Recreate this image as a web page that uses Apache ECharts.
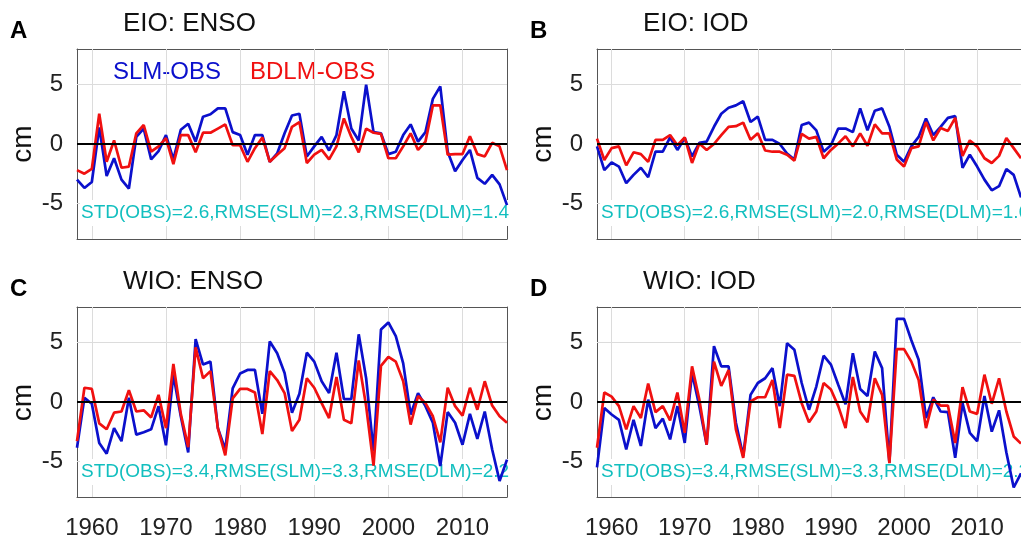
<!DOCTYPE html>
<html>
<head>
<meta charset="utf-8">
<script src="https://cdn.jsdelivr.net/npm/echarts@6/dist/echarts.min.js"></script>
<style>
  html, body { margin: 0; padding: 0; background: #fff; }
  #main { width: 1021px; height: 540px; }
</style>
</head>
<body>
<div id="main"></div>
<script>
// years 1958-2016
var years = [1958,1959,1960,1961,1962,1963,1964,1965,1966,1967,
             1968,1969,1970,1971,1972,1973,1974,1975,1976,1977,
             1978,1979,1980,1981,1982,1983,1984,1985,1986,1987,
             1988,1989,1990,1991,1992,1993,1994,1995,1996,1997,
             1998,1999,2000,2001,2002,2003,2004,2005,2006,2007,
             2008,2009,2010,2011,2012,2013,2014,2015,2016];

var xTicks = [1960, 1970, 1980, 1990, 2000, 2010];
var yTicks = [-5, 0, 5];

// A  EIO: ENSO
var eioEnsoSlm = [-3.0,-3.7,-3.2,1.4,-2.7,-1.2,-3.0,-3.75,0.6,1.3,
                  -1.3,-0.6,0.75,-1.3,1.2,1.7,0.2,2.3,2.5,3.0,
                  3.0,1.0,0.75,-0.9,0.75,0.75,-1.5,-0.8,0.9,2.4,
                  2.55,-1.05,-0.2,0.6,-0.55,0.75,4.45,1.3,0.3,5.0,
                  1.0,0.9,-0.85,-0.65,0.75,1.65,0.2,1.0,3.8,4.85,
                  -0.65,-2.3,-1.35,-0.5,-2.85,-3.35,-2.6,-3.4,-5.15];
var eioEnsoBdlm = [-2.2,-2.5,-2.1,2.55,-1.5,0.3,-2.0,-1.9,0.9,1.6,
                   -0.65,-0.2,0.5,-1.7,0.75,0.75,-0.7,0.95,0.95,1.3,
                   1.65,-0.1,-0.1,-1.5,-0.35,0.55,-1.5,-0.9,-0.35,1.45,
                   1.85,-1.6,-0.9,-0.5,-1.3,-0.2,2.15,0.6,-0.7,1.3,
                   0.95,0.85,-1.2,-1.2,-0.2,0.9,-0.5,0.2,3.25,3.25,
                   -0.9,-0.85,-0.85,0.65,-0.85,-1.05,0.1,-0.2,-2.2];

// B  EIO: IOD
var eioIodSlm = [-0.2,-2.2,-1.55,-1.9,-3.3,-2.6,-2.0,-2.8,-0.65,-0.65,
                 0.55,-0.5,0.5,-1.05,0.1,0.2,1.45,2.55,3.05,3.25,
                 3.6,1.85,2.3,0.35,0.35,0.0,-0.8,-1.3,1.6,1.8,
                 1.15,-0.65,-0.1,1.3,1.3,1.0,3.0,1.15,2.8,3.0,
                 1.45,-0.9,-1.5,-0.2,0.6,2.15,0.75,1.45,2.2,2.35,
                 -2.0,-0.9,-1.9,-3.0,-3.9,-3.55,-2.1,-2.6,-4.5];
var eioIodBdlm = [0.45,-1.35,-0.35,-0.2,-1.8,-0.7,-0.85,-1.5,0.35,0.35,
                  0.75,-0.1,0.55,-1.6,0.05,-0.5,0.0,0.75,1.45,1.5,
                  1.8,0.35,0.9,-0.55,-0.65,-0.65,-0.9,-1.4,0.85,0.45,
                  0.6,-1.2,-0.5,0.05,0.65,-0.2,0.9,-0.15,1.65,0.9,
                  0.9,-1.3,-1.9,-0.35,-0.2,1.85,0.3,1.35,1.1,2.2,
                  -1.0,0.3,-0.2,-1.2,-1.6,-1.0,0.5,-0.35,-1.2];

// C  WIO: ENSO
var wioEnsoSlm = [-3.85,0.35,-0.15,-3.45,-4.35,-2.2,-3.3,0.35,-2.75,-2.55,
                  -2.3,-0.35,-3.65,2.3,-1.2,-4.25,5.3,3.15,3.4,-2.2,
                  -4.0,1.15,2.4,2.7,2.7,-1.0,5.1,4.1,2.45,-0.9,
                  0.7,4.15,3.4,1.75,0.75,4.15,0.25,0.25,5.7,2.0,
                  -4.15,6.1,6.7,5.55,3.25,-1.05,0.75,-0.35,-1.75,-5.4,
                  -0.85,-1.75,-3.6,-1.0,-3.1,-0.8,-4.0,-6.65,-4.85];
var wioEnsoBdlm = [-3.3,1.2,1.1,-1.8,-2.3,-0.9,-0.8,1.0,-0.8,-0.7,
                   -1.3,0.6,-2.2,3.2,-1.0,-3.8,4.6,2.0,2.6,-2.2,
                   -4.5,0.3,1.1,1.1,0.8,-2.7,2.6,1.85,0.75,-2.45,
                   -1.5,2.0,1.2,-0.1,-1.35,2.1,-1.5,-1.8,3.5,-0.35,
                   -5.35,3.05,3.8,3.4,1.75,-1.9,0.5,-0.1,-1.2,-3.4,
                   1.2,-0.35,-1.15,1.2,-0.65,1.75,-0.3,-1.2,-1.75];

// D  WIO: IOD
var wioIodSlm = [-5.5,-0.5,-1.05,-1.5,-4.0,-1.5,-3.7,0.2,-2.2,-1.4,
                 -3.15,-0.35,-3.45,2.45,-0.35,-3.6,4.7,3.0,3.0,-1.75,
                 -4.55,0.6,1.6,2.0,2.85,-0.35,4.95,4.4,1.6,-0.65,
                 1.3,3.9,3.15,1.45,-0.2,4.1,1.1,0.5,4.25,2.85,
                 -5.1,7.0,7.0,5.2,3.55,-1.35,0.4,-0.8,-0.85,-4.7,
                 -0.1,-2.6,-3.3,0.5,-2.5,-0.7,-4.25,-7.2,-6.0];
var wioIodBdlm = [-3.85,0.8,0.45,-0.35,-2.3,-0.35,-1.35,1.55,-0.85,-0.35,
                  -1.55,0.8,-2.6,3.0,0.2,-3.6,3.4,1.35,2.7,-2.3,
                  -4.7,0.05,0.4,0.4,1.85,-2.2,2.3,2.2,-0.1,-1.7,
                  -0.8,1.6,1.05,-0.35,-2.2,2.1,-0.8,-1.7,2.0,0.6,
                  -5.15,4.45,4.45,3.4,1.85,-2.2,0.2,-0.3,-0.3,-3.45,
                  1.25,-0.8,-1.0,2.3,-0.15,2.0,-0.8,-2.9,-3.5];

var titles = ['EIO: ENSO', 'EIO: IOD', 'WIO: ENSO', 'WIO: IOD'];
var letters = ['A', 'B', 'C', 'D'];
var stats = ['STD(OBS)=2.6,RMSE(SLM)=2.3,RMSE(DLM)=1.4',
             'STD(OBS)=2.6,RMSE(SLM)=2.0,RMSE(DLM)=1.6',
             'STD(OBS)=3.4,RMSE(SLM)=3.3,RMSE(DLM)=2.2',
             'STD(OBS)=3.4,RMSE(SLM)=3.3,RMSE(DLM)=2.2'];

var BLUE = '#0b10cc';
var RED = '#f01010';
var CYAN = '#12bfbf';
var BOX = '#555555';
var GRID = '#dcdcdc';
var FONT = '"Liberation Sans", Arial, Helvetica, sans-serif';

var panels = [
  {left: 77,  top: 49,  height: 190, slm: eioEnsoSlm, bdlm: eioEnsoBdlm, xlab: false},
  {left: 597, top: 49,  height: 190, slm: eioIodSlm,  bdlm: eioIodBdlm,  xlab: false},
  {left: 77,  top: 307, height: 191, slm: wioEnsoSlm, bdlm: wioEnsoBdlm, xlab: true},
  {left: 597, top: 307, height: 191, slm: wioIodSlm,  bdlm: wioIodBdlm,  xlab: true}
];

function pairs(vals) {
  var out = [];
  for (var i = 0; i < years.length; i++) out.push([years[i], vals[i]]);
  return out;
}

// grid lines as markLines so they sit exactly on the tick values
function gridLines() {
  var d = [];
  xTicks.forEach(function (v) { d.push({xAxis: v}); });
  yTicks.forEach(function (v) { if (v !== 0) d.push({yAxis: v}); });
  return d;
}

var grids = [], xAxes = [], yAxes = [], series = [], graphics = [];

panels.forEach(function (p, i) {
  grids.push({left: p.left, top: p.top, width: 430, height: p.height});

  // bottom / top x axes (box with inside ticks)
  xAxes.push({
    gridIndex: i, type: 'value', min: 1958, max: 2016, position: 'bottom',
    axisLine: {show: true, onZero: false, lineStyle: {color: BOX, width: 1}},
    axisTick: {show: true, inside: true, length: 5, customValues: xTicks, lineStyle: {color: BOX}},
    axisLabel: {show: p.xlab, customValues: xTicks, margin: 19, fontSize: 24, color: '#222', fontFamily: FONT,
                formatter: function (v) { return String(v); }},
    splitLine: {show: false}
  });
  xAxes.push({
    gridIndex: i, type: 'value', min: 1958, max: 2016, position: 'top',
    axisLine: {show: true, onZero: false, lineStyle: {color: BOX, width: 1}},
    axisTick: {show: true, inside: true, length: 5, customValues: xTicks, lineStyle: {color: BOX}},
    axisLabel: {show: false},
    splitLine: {show: false}
  });
  yAxes.push({
    gridIndex: i, type: 'value', min: -8, max: 8, position: 'left',
    axisLine: {show: true, onZero: false, lineStyle: {color: BOX, width: 1}},
    axisTick: {show: true, inside: true, length: 5, customValues: yTicks, lineStyle: {color: BOX}},
    axisLabel: {show: true, customValues: yTicks, margin: 14, fontSize: 24, color: '#222', fontFamily: FONT},
    splitLine: {show: false}
  });
  yAxes.push({
    gridIndex: i, type: 'value', min: -8, max: 8, position: 'right',
    axisLine: {show: true, onZero: false, lineStyle: {color: BOX, width: 1}},
    axisTick: {show: true, inside: true, length: 5, customValues: yTicks, lineStyle: {color: BOX}},
    axisLabel: {show: false},
    splitLine: {show: false}
  });

  // light grid, drawn under everything else in the plot
  series.push({
    type: 'line', xAxisIndex: 2 * i, yAxisIndex: 2 * i, z: 0, data: [], silent: true,
    markLine: {
      z: 1, silent: true, symbol: 'none', label: {show: false},
      lineStyle: {color: GRID, width: 1, type: 'solid'},
      data: gridLines()
    }
  });
  series.push({
    name: 'SLM-OBS', type: 'line', xAxisIndex: 2 * i, yAxisIndex: 2 * i, z: 3,
    data: pairs(p.slm), showSymbol: false, silent: true,
    lineStyle: {color: BLUE, width: 2.7}, itemStyle: {color: BLUE}
  });
  series.push({
    name: 'BDLM-OBS', type: 'line', xAxisIndex: 2 * i, yAxisIndex: 2 * i, z: 3,
    data: pairs(p.bdlm), showSymbol: false, silent: true,
    lineStyle: {color: RED, width: 2.7}, itemStyle: {color: RED},
    markLine: {
      z: 5, silent: true, symbol: 'none', label: {show: false},
      lineStyle: {color: '#000', width: 2, type: 'solid'},
      data: [{yAxis: 0}]
    }
  });

  // panel texts
  graphics.push({
    type: 'text', left: p.left + 46, top: p.top - 38,
    style: {text: titles[i], font: '26px ' + FONT, fill: '#111'}
  });
  graphics.push({
    type: 'text', left: p.left - 67, top: p.top - 30,
    style: {text: letters[i], font: 'bold 24px ' + FONT, fill: '#000'}
  });
  graphics.push({
    type: 'text', x: p.left - 54, y: p.top + p.height / 2,
    rotation: Math.PI / 2,
    style: {text: 'cm', font: '28px ' + FONT, fill: '#111', align: 'center', verticalAlign: 'middle'}
  });
  graphics.push({
    type: 'text', z: 2, x: p.left + 3, y: p.top + p.height - 26,
    style: {text: stats[i], font: '19px ' + FONT, fill: CYAN, align: 'left', verticalAlign: 'middle',
            backgroundColor: '#fff', padding: [4, 1, 3, 1]}
  });
});

// legend text in panel A
var legendNames = ['SLM-OBS', 'BDLM-OBS'];
graphics.push({
  type: 'text', x: 113, y: 72,
  style: {text: legendNames[0], font: '24px ' + FONT, fill: BLUE, verticalAlign: 'middle'}
});
graphics.push({
  type: 'text', x: 250, y: 72,
  style: {text: legendNames[1], font: '24px ' + FONT, fill: RED, verticalAlign: 'middle'}
});

var chart = echarts.init(document.getElementById('main'));
chart.setOption({
  animation: false,
  backgroundColor: '#fff',
  grid: grids,
  xAxis: xAxes,
  yAxis: yAxes,
  series: series,
  graphic: graphics
});
</script>
</body>
</html>
